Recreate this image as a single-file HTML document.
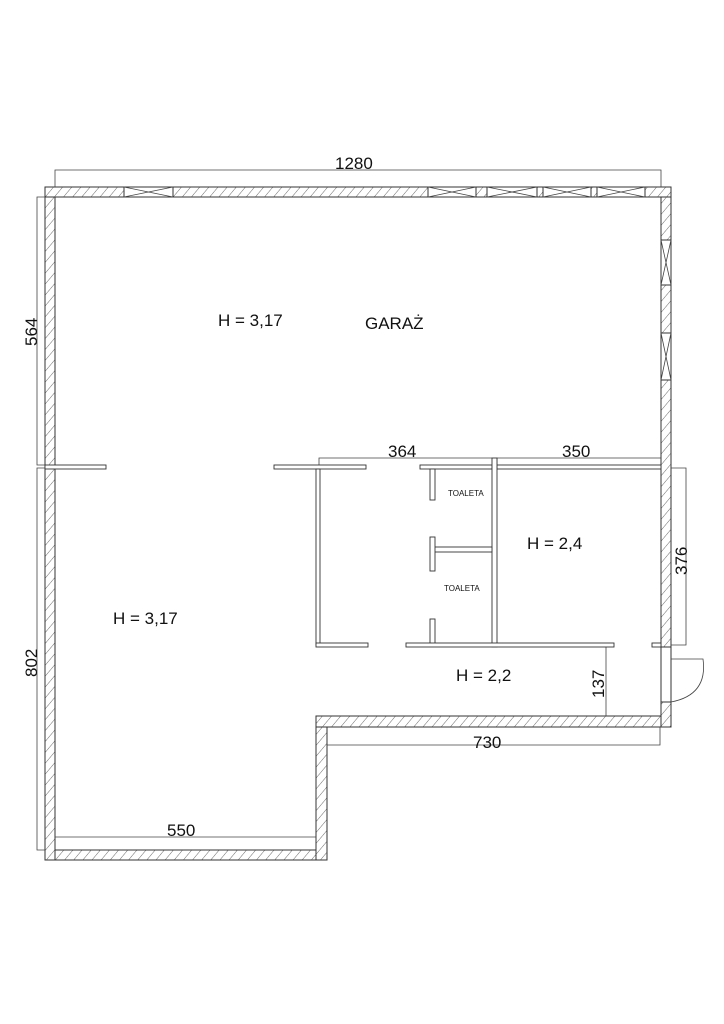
<!DOCTYPE html>
<html><head><meta charset="utf-8"><style>
html,body{margin:0;padding:0;background:#fff;width:724px;height:1024px;overflow:hidden}
svg{display:block}
text{font-family:"Liberation Sans",sans-serif;fill:#111}
</style></head><body>
<svg width="724" height="1024" viewBox="0 0 724 1024" xmlns="http://www.w3.org/2000/svg">
<defs>
<pattern id="h" patternUnits="userSpaceOnUse" width="7" height="7" patternTransform="rotate(40)">
<rect width="7" height="7" fill="#fff"/><line x1="0" y1="0" x2="0" y2="7" stroke="#444" stroke-width="0.8"/>
</pattern>
</defs>
<g stroke="#333" stroke-width="1" fill="url(#h)">
<!-- top wall -->
<rect x="45" y="187" width="626" height="10"/>
<!-- left wall -->
<rect x="45" y="197" width="10" height="663"/>
<!-- right wall -->
<rect x="661" y="197" width="10" height="450"/>
<rect x="661" y="702" width="10" height="25"/>
<!-- bottom right wall -->
<rect x="316" y="716" width="345" height="11"/>
<rect x="316" y="727" width="11" height="133"/>
<rect x="55" y="850" width="261" height="10"/>
</g>
<g stroke="#333" stroke-width="1" fill="#fff">
<!-- top windows -->
<rect x="124" y="187" width="49" height="10"/>
<rect x="428" y="187" width="48" height="10"/>
<rect x="487" y="187" width="50" height="10"/>
<rect x="543" y="187" width="48" height="10"/>
<rect x="597" y="187" width="48" height="10"/>
<!-- right windows -->
<rect x="661" y="240" width="10" height="45"/>
<rect x="661" y="333" width="10" height="47"/>
<!-- door opening -->
<rect x="661" y="647" width="10" height="55"/>
</g>
<g stroke="#444" stroke-width="0.8" fill="none">
<path d="M124,187 L173,197 M124,197 L173,187"/>
<path d="M428,187 L476,197 M428,197 L476,187"/>
<path d="M487,187 L537,197 M487,197 L537,187"/>
<path d="M543,187 L591,197 M543,197 L591,187"/>
<path d="M597,187 L645,197 M597,197 L645,187"/>
<path d="M661,240 L671,285 M671,240 L661,285"/>
<path d="M661,333 L671,380 M671,333 L661,380"/>
<!-- door leaf -->
<path d="M671,659 H703 Q708,695 671,702"/>
<!-- dimension lines -->
<path d="M55,187 V170 H661 V187"/>
<path d="M45,197 H37 V465 H45"/>
<path d="M45,468 H37 V850 H45"/>
<path d="M319,465 V458 H492"/>
<path d="M497,465 V458 H661"/>
<path d="M671,468 H686 V645 H671"/>
<path d="M606,647 V716"/>
<path d="M327,745 H660 V727"/>
<path d="M55,837 H316"/>
</g>
<g stroke="#333" stroke-width="0.9" fill="#fff">
<!-- partitions at y 465 -->
<rect x="45" y="465" width="61" height="4"/>
<rect x="274" y="465" width="92" height="4"/>
<rect x="420" y="465" width="72" height="4"/>
<rect x="497" y="465" width="164" height="4"/>
<!-- vertical left of corridor -->
<rect x="316" y="469" width="4" height="176"/>
<!-- toilet wall -->
<rect x="492" y="458" width="5" height="189"/>
<!-- toilet divider -->
<rect x="434" y="547" width="58" height="5"/>
<rect x="430" y="469" width="5" height="31"/>
<rect x="430" y="537" width="5" height="34"/>
<rect x="430" y="619" width="5" height="26"/>
<!-- bottom partitions -->
<rect x="316" y="643" width="52" height="4"/>
<rect x="406" y="643" width="208" height="4"/>
<rect x="652" y="643" width="9" height="4"/>
</g>
<g font-size="17">
<text x="335" y="169">1280</text>
<text x="218" y="326">H = 3,17</text>
<text x="365" y="329">GARAŻ</text>
<text x="113" y="624">H = 3,17</text>
<text x="527" y="549">H = 2,4</text>
<text x="456" y="681">H = 2,2</text>
<text x="473" y="748">730</text>
<text x="167" y="836">550</text>
<text x="388" y="457">364</text>
<text x="562" y="457">350</text>
<text transform="translate(37,346) rotate(-90)">564</text>
<text transform="translate(37,677) rotate(-90)">802</text>
<text transform="translate(687,575) rotate(-90)">376</text>
<text transform="translate(604,698) rotate(-90)">137</text>
</g>
<g font-size="8">
<text x="448" y="496">TOALETA</text>
<text x="444" y="591">TOALETA</text>
</g>
</svg>
</body></html>
